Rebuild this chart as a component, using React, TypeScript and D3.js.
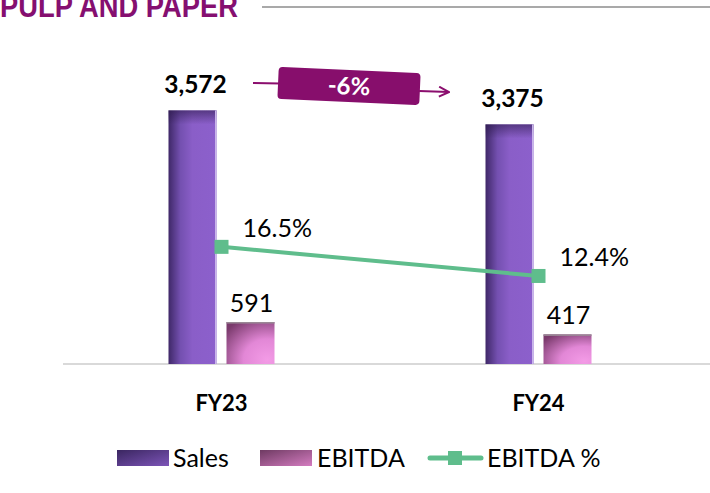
import React from "react";
import * as d3 from "d3";

const categories = ["FY23", "FY24"];
const sales = [3572, 3375];
const ebitda = [591, 417];
const ebitdaPct = [16.5, 12.4];
const salesLabels = ["3,572", "3,375"];
const ebitdaLabels = ["591", "417"];
const pctLabels = ["16.5%", "12.4%"];
const seriesNames = ["Sales", "EBITDA", "EBITDA %"];
const title = "PULP AND PAPER";
const changeLabel = "-6%";

const W = 710;
const H = 493;
const baseY = 364;
const topY = 80;
const FONT = "Lato, 'Open Sans', sans-serif";

export default function App() {
  const x = d3.scaleBand<string>().domain(categories).range([63, 697]).padding(0);
  const y = d3.scaleLinear().domain([0, 4000]).range([baseY, topY]);
  const y2 = d3.scaleLinear().domain([0, 40]).range([baseY, topY]);
  const barW = 48;
  const gap = 10;
  const cx = (c: string) => (x(c) as number) + x.bandwidth() / 2;
  const salesX = (c: string) => cx(c) - gap / 2 - barW;
  const ebitdaX = (c: string) => cx(c) + gap / 2;

  const line = d3
    .line<number>()
    .x((_, i) => cx(categories[i]))
    .y((d) => y2(d));

  return (
    <svg width={W} height={H} style={{ position: "absolute", left: 0, top: 0, background: "#fff" }}>
      <defs>
        <linearGradient id="salesG" x1="0" y1="0" x2="1" y2="0">
          <stop offset="0" stopColor="#3f2868" />
          <stop offset="0.25" stopColor="#7450b0" />
          <stop offset="0.5" stopColor="#8a5ec8" />
          <stop offset="1" stopColor="#8c60cc" />
        </linearGradient>
        <linearGradient id="salesTop" x1="0" y1="0" x2="0" y2="1">
          <stop offset="0" stopColor="#2a1848" stopOpacity="0.55" />
          <stop offset="1" stopColor="#2a1848" stopOpacity="0" />
        </linearGradient>
        <radialGradient id="ebitdaG" cx="0.85" cy="0.9" r="1.1">
          <stop offset="0" stopColor="#f39be6" />
          <stop offset="0.45" stopColor="#e287d6" />
          <stop offset="1" stopColor="#7a3a6c" />
        </radialGradient>
        <linearGradient id="legSales" x1="0" y1="0" x2="1" y2="1">
          <stop offset="0" stopColor="#3a2660" />
          <stop offset="1" stopColor="#7d55b8" />
        </linearGradient>
        <linearGradient id="legEbitda" x1="0" y1="0" x2="1" y2="1">
          <stop offset="0" stopColor="#6e3a62" />
          <stop offset="1" stopColor="#d47cc0" />
        </linearGradient>
        <marker id="arrowHead" viewBox="0 0 12 12" refX="11" refY="6" markerWidth="12" markerHeight="12" markerUnits="userSpaceOnUse" orient="auto">
          <path d="M1,1 L11,6 L1,11" fill="none" stroke="#8b0e6e" strokeWidth="2" />
        </marker>
      </defs>

      {/* Title */}
      <text x={0} y={17} fontFamily="'Liberation Sans', Arial, sans-serif" fontWeight="bold" fontSize={32} fill="#850f70" textLength={238} lengthAdjust="spacingAndGlyphs">
        {title}
      </text>
      <line x1={262} x2={710} y1={7} y2={7} stroke="#8c8c8c" strokeWidth={1.5} />

      {/* Axis baseline */}
      <line x1={63} x2={710} y1={baseY} y2={baseY} stroke="#d9d9d9" strokeWidth={2} />

      {/* Sales bars */}
      {categories.map((c, i) => (
        <g key={"s" + c}>
          <rect x={salesX(c)} y={y(sales[i])} width={barW} height={baseY - y(sales[i])} fill="url(#salesG)" />
          <rect x={salesX(c)} y={y(sales[i])} width={barW} height={14} fill="url(#salesTop)" />
          <rect x={salesX(c) + barW - 1.5} y={y(sales[i])} width={1.5} height={baseY - y(sales[i])} fill="#c9b6ea" />
        </g>
      ))}
      {/* EBITDA bars */}
      {categories.map((c, i) => (
        <g key={"e" + c}>
          <rect x={ebitdaX(c)} y={y(ebitda[i])} width={barW} height={baseY - y(ebitda[i])} fill="url(#ebitdaG)" />
          <rect x={ebitdaX(c)} y={y(ebitda[i])} width={barW} height={1.5} fill="#9a8a96" />
        </g>
      ))}

      {/* Sales labels */}
      {categories.map((c, i) => (
        <text key={"sl" + c} x={salesX(c) + barW / 2 + 3} y={y(sales[i]) - 17} textAnchor="middle" fontFamily={FONT} fontWeight="bold" fontSize={24.5} fill="#000">
          {salesLabels[i]}
        </text>
      ))}
      {/* EBITDA labels */}
      {categories.map((c, i) => (
        <text key={"el" + c} x={ebitdaX(c) + barW / 2 + 1} y={y(ebitda[i]) - 10} textAnchor="middle" fontFamily={FONT} fontSize={25} fill="#000">
          {ebitdaLabels[i]}
        </text>
      ))}

      {/* EBITDA % line */}
      <path d={line(ebitdaPct) || ""} fill="none" stroke="#5fbd8c" strokeWidth={4} />
      {categories.map((c, i) => (
        <rect key={"m" + c} x={cx(c) - 7} y={y2(ebitdaPct[i]) - 7} width={14} height={14} fill="#5fbd8c" />
      ))}
      {categories.map((c, i) => (
        <text key={"pl" + c} x={cx(c) + 21} y={y2(ebitdaPct[i]) - 10} fontFamily={FONT} fontSize={25} fill="#000">
          {pctLabels[i]}
        </text>
      ))}

      {/* Category labels */}
      {categories.map((c) => (
        <text key={"c" + c} x={cx(c)} y={411} textAnchor="middle" fontFamily={FONT} fontWeight="bold" fontSize={22} fill="#000">
          {c}
        </text>
      ))}

      {/* Change annotation */}
      <line x1={253} x2={280} y1={83} y2={83.5} stroke="#8b0e6e" strokeWidth={2} />
      <g transform="translate(349,86) rotate(2.5)">
        <rect x={-71} y={-16} width={142} height={32} rx={4} fill="#870e6c" />
        <text x={0} y={8.5} textAnchor="middle" fontFamily={FONT} fontWeight="bold" fontSize={24} fill="#fff">
          {changeLabel}
        </text>
      </g>
      <line x1={419} x2={449} y1={91} y2={92} stroke="#8b0e6e" strokeWidth={2} markerEnd="url(#arrowHead)" />

      {/* Legend */}
      <rect x={117} y={450} width={52} height={16} fill="url(#legSales)" />
      <text x={173} y={467} fontFamily={FONT} fontSize={25} fill="#000">{seriesNames[0]}</text>
      <rect x={260} y={450} width={52} height={16} fill="url(#legEbitda)" />
      <text x={317} y={467} fontFamily={FONT} fontSize={25} fill="#000">{seriesNames[1]}</text>
      <line x1={430} x2={481} y1={458} y2={458} stroke="#5fbd8c" strokeWidth={5} strokeLinecap="round" />
      <rect x={448} y={451} width={14} height={14} fill="#5fbd8c" />
      <text x={487} y={467} fontFamily={FONT} fontSize={25} fill="#000">{seriesNames[2]}</text>
    </svg>
  );
}
